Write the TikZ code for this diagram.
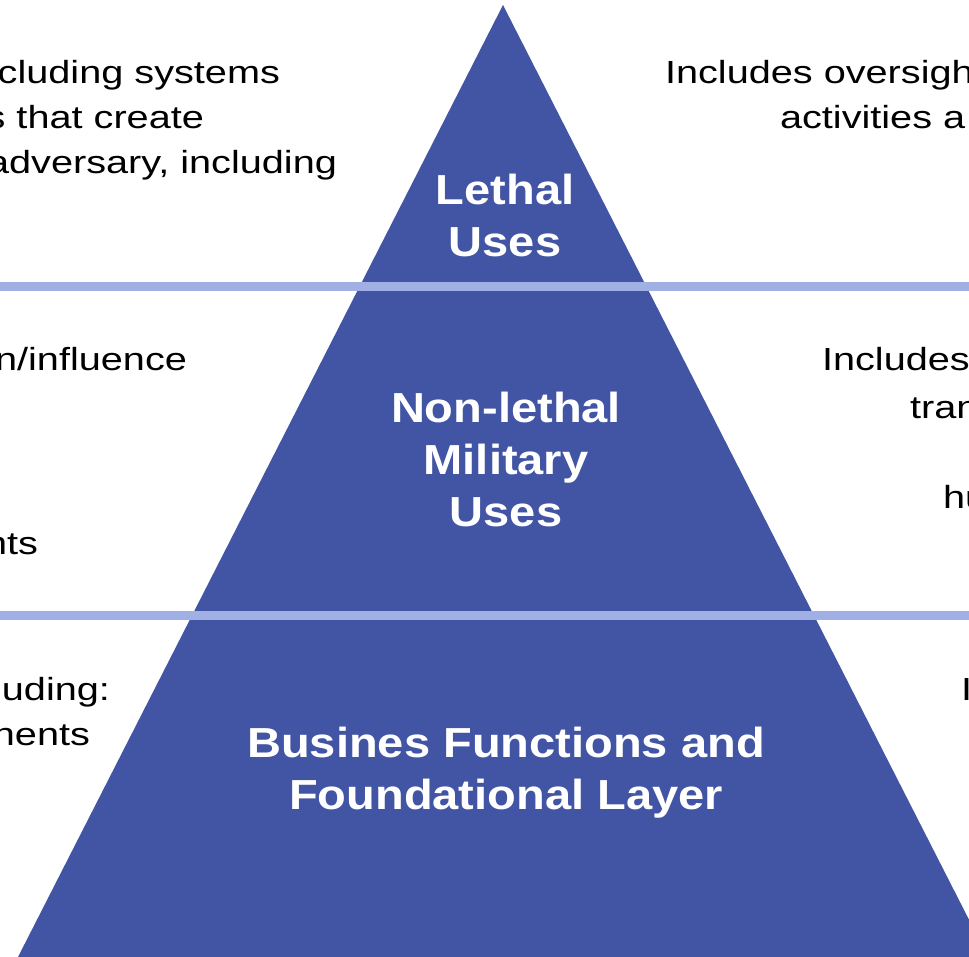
\documentclass[tikz,border=0pt]{standalone}
\usepackage{fontspec}
\setmainfont{Liberation Sans}
\usetikzlibrary{positioning}

\begin{document}
\begin{tikzpicture}[x=1pt,y=-1pt,
  tiertext/.style={text=white,font=\bfseries\fontsize{42}{52}\selectfont,xscale=1.12,inner sep=0pt,outer sep=0pt,anchor=base},
  sideleft/.style={text=black,font=\fontsize{32}{45}\selectfont,xscale=1.24,inner sep=0pt,outer sep=0pt,anchor=base east},
  sideright/.style={sideleft,anchor=base west}]
\definecolor{pyramidColor}{RGB}{66,85,164}
\definecolor{bandColor}{RGB}{160,176,228}
\path[use as bounding box,fill=white] (0,0) rectangle (969,957);
\begin{scope}
\path[clip] (0,0) rectangle (969,957);

% pyramid
\coordinate (apex) at (503,5);
\coordinate (baseL) at (18,957);
\coordinate (baseR) at (988,957);
\fill[pyramidColor] (apex) -- (baseL) -- (baseR) -- cycle;

% bands between tiers
\coordinate (bandTopL) at (0,287);
\coordinate (bandTopR) at (969,287);
\coordinate (bandLowL) at (0,615);
\coordinate (bandLowR) at (969,615);
\draw[bandColor,line width=9pt] (bandTopL) -- (bandTopR);
\draw[bandColor,line width=9pt] (bandLowL) -- (bandLowR);

% tier labels
\node[tiertext] (lethalA) at (505,205) {Lethal};
\node[tiertext] (lethalB) at (505,257) {Uses};
\node[tiertext] (nonlethalA) at (506,422) {Non-lethal};
\node[tiertext] (nonlethalB) at (506,474) {Military};
\node[tiertext] (nonlethalC) at (506,526) {Uses};
\node[tiertext] (businesA) at (506,757) {Busines Functions and};
\node[tiertext] (businesB) at (506,809) {Foundational Layer};

% left column
\node[sideleft] (leftA) at (280,84) {cluding systems};
\node[sideleft] (leftB) at (204,129) {s that create};
\node[sideleft] (leftC) at (337,174) {adversary, including};
\node[sideleft] (leftD) at (187,371) {n/influence};
\node[sideleft] (leftE) at (38,554) {nts};
\node[sideleft] (leftF) at (110,700) {uding:};
\node[sideleft] (leftG) at (90,745) {nents};

% right column
\node[sideright] (rightA) at (665,84) {Includes oversigh};
\node[sideright] (rightB) at (780,129) {activities a};
\node[sideright] (rightC) at (822,371) {Includes};
\node[sideright] (rightD) at (910,418) {tran};
\node[sideright] (rightE) at (943,508) {hu};
\node[sideright] (rightF) at (961,700) {I};
\end{scope}
\end{tikzpicture}
\end{document}
